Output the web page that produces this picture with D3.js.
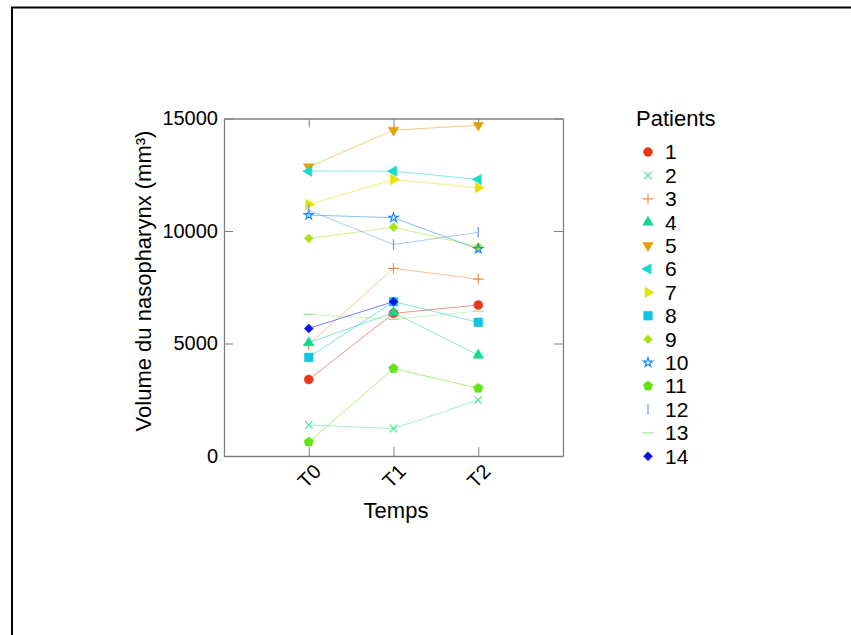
<!DOCTYPE html>
<html>
<head>
<meta charset="utf-8">
<script src="https://cdn.jsdelivr.net/npm/d3@7"></script>
<style>
  body { margin: 0; background: #fff; }
  svg { font-family: "Liberation Sans", Arial, sans-serif; }
</style>
</head>
<body>
<svg width="851" height="635"></svg>
<script>
const times = ["T0", "T1", "T2"];
const patients = ["1", "2", "3", "4", "5", "6", "7", "8", "9", "10", "11", "12", "13", "14"];
const volumesT0 = [3400, 1380, 4960, 5030, 12850, 12660, 11180, 4380, 9670, 10710, 620, 10930, 6300, 5670];
const volumesT1 = [6340, 1220, 8340, 6370, 14480, 12660, 12290, 6860, 10170, 10590, 3890, 9400, 6070, 6860];
const volumesT2 = [6710, 2490, 7860, 4480, 14700, 12290, 11920, 5940, 9300, 9200, 3010, 9940, 6440, null];
const yTicks = [0, 5000, 10000, 15000];

const colors = ["#e8381a", "#52e69a", "#f29048", "#12d98e", "#e0a30a", "#16dccb", "#e4e404",
  "#14c2e2", "#a6e414", "#1e88f0", "#62e412", "#6a98f0", "#98e690", "#0a14e6"];

// custom markers
const pentagon = {
  draw(ctx, size) {
    const r = Math.sqrt(size / 2.378);
    for (let i = 0; i < 5; i++) {
      const a = -Math.PI / 2 + i * 2 * Math.PI / 5;
      if (i === 0) ctx.moveTo(r * Math.cos(a), r * Math.sin(a));
      else ctx.lineTo(r * Math.cos(a), r * Math.sin(a));
    }
    ctx.closePath();
  }
};
const vbar = { draw(ctx, size) { const r = Math.sqrt(size) / 1.2; ctx.moveTo(0, -r); ctx.lineTo(0, r); } };
const hbar = { draw(ctx, size) { const r = Math.sqrt(size) / 1.2; ctx.moveTo(-r, 0); ctx.lineTo(r, 0); } };

const markers = [
  { type: d3.symbolCircle, size: 64, rot: 0, fill: true },
  { type: d3.symbolX, size: 40, rot: 0, fill: false },
  { type: d3.symbolPlus, size: 40, rot: 0, fill: false },
  { type: d3.symbolTriangle, size: 48, rot: 0, fill: true },
  { type: d3.symbolTriangle, size: 48, rot: 180, fill: true },
  { type: d3.symbolTriangle, size: 48, rot: -90, fill: true },
  { type: d3.symbolTriangle, size: 48, rot: 90, fill: true },
  { type: d3.symbolSquare, size: 75, rot: 0, fill: true },
  { type: d3.symbolSquare, size: 40, rot: 45, fill: true },
  { type: d3.symbolStar, size: 26, rot: 0, fill: false },
  { type: pentagon, size: 60, rot: 0, fill: true },
  { type: vbar, size: 40, rot: 0, fill: false },
  { type: hbar, size: 40, rot: 0, fill: false },
  { type: d3.symbolSquare, size: 40, rot: 45, fill: true }
];

const svg = d3.select("svg");

// outer frame
svg.append("rect")
  .attr("x", 12).attr("y", 7.5).attr("width", 900).attr("height", 700)
  .attr("fill", "none").attr("stroke", "#000").attr("stroke-width", 2);

const margin = { left: 224, top: 118.5, right: 563, bottom: 456 };

const xScale = d3.scaleLinear().domain([-1, 3]).range([margin.left, margin.right]);
const yScale = d3.scaleLinear().domain([0, 15000]).range([margin.bottom, margin.top]);

const series = patients.map((p, i) => ({
  id: p,
  color: colors[i],
  marker: markers[i],
  values: [volumesT0[i], volumesT1[i], volumesT2[i]]
}));

const axisColor = "#808080";
const tickFont = 20;
const titleFont = 22;

// axes
const gx = svg.append("g").attr("transform", `translate(0,${margin.bottom})`)
  .call(d3.axisBottom(xScale).tickValues([0, 1, 2]).tickFormat((d) => times[d]).tickSize(-9).tickSizeOuter(0));
gx.selectAll("text")
  .attr("font-size", tickFont).attr("fill", "#000")
  .attr("text-anchor", "middle").attr("dy", "0.35em")
  .attr("y", 0)
  .attr("transform", "translate(0,20) rotate(-45)");

const gy = svg.append("g").attr("transform", `translate(${margin.left},0)`)
  .call(d3.axisLeft(yScale).tickValues(yTicks).tickFormat(d3.format("d")).tickSize(-9).tickSizeOuter(0).tickPadding(6));
gy.selectAll("text").attr("font-size", tickFont).attr("fill", "#000");

const gt = svg.append("g").attr("transform", `translate(0,${margin.top})`)
  .call(d3.axisTop(xScale).tickValues([0, 1, 2]).tickFormat("").tickSize(-9).tickSizeOuter(0));
const gr = svg.append("g").attr("transform", `translate(${margin.right},0)`)
  .call(d3.axisRight(yScale).tickValues(yTicks).tickFormat("").tickSize(-9).tickSizeOuter(0));

[gx, gy, gt, gr].forEach((g) => {
  g.select(".domain").attr("stroke", axisColor).attr("stroke-width", 1.3);
  g.selectAll(".tick line").attr("stroke", axisColor).attr("stroke-width", 1);
});

// lines
const line = d3.line()
  .defined((d) => d != null)
  .x((d, i) => xScale(i))
  .y((d) => yScale(d));

svg.append("g").selectAll("path")
  .data(series)
  .enter()
  .append("path")
  .attr("d", (d) => line(d.values))
  .attr("fill", "none")
  .attr("stroke", (d) => d.color)
  .attr("stroke-opacity", 0.6)
  .attr("stroke-width", 0.9);

function drawMarker(sel, m, color) {
  sel.append("path")
    .attr("d", d3.symbol().type(m.type).size(m.size)())
    .attr("fill", m.fill ? color : "none")
    .attr("stroke", color)
    .attr("stroke-width", m.fill ? 0.5 : 1.2);
}

// markers
series.forEach((s) => {
  s.values.forEach((v, i) => {
    if (v == null) return;
    const g = svg.append("g")
      .attr("transform", `translate(${xScale(i)},${yScale(v)}) rotate(${s.marker.rot})`);
    drawMarker(g, s.marker, s.color);
  });
});

// axis titles
svg.append("text")
  .attr("x", 396).attr("y", 518)
  .attr("text-anchor", "middle").attr("font-size", titleFont)
  .text("Temps");

svg.append("text")
  .attr("transform", "translate(151,281) rotate(-90)")
  .attr("text-anchor", "middle").attr("font-size", titleFont)
  .text("Volume du nasopharynx (mm³)");

// legend
const legend = svg.append("g");
legend.append("text")
  .attr("x", 636).attr("y", 126)
  .attr("font-size", titleFont)
  .text("Patients");

const legendStep = 23.4;
series.forEach((s, i) => {
  const y = 152 + i * legendStep;
  const g = legend.append("g")
    .attr("transform", `translate(648,${y}) rotate(${s.marker.rot})`);
  drawMarker(g, s.marker, s.color);
  legend.append("text")
    .attr("x", 665).attr("y", y)
    .attr("dy", "0.35em")
    .attr("font-size", 21)
    .text(s.id);
});
</script>
</body>
</html>
